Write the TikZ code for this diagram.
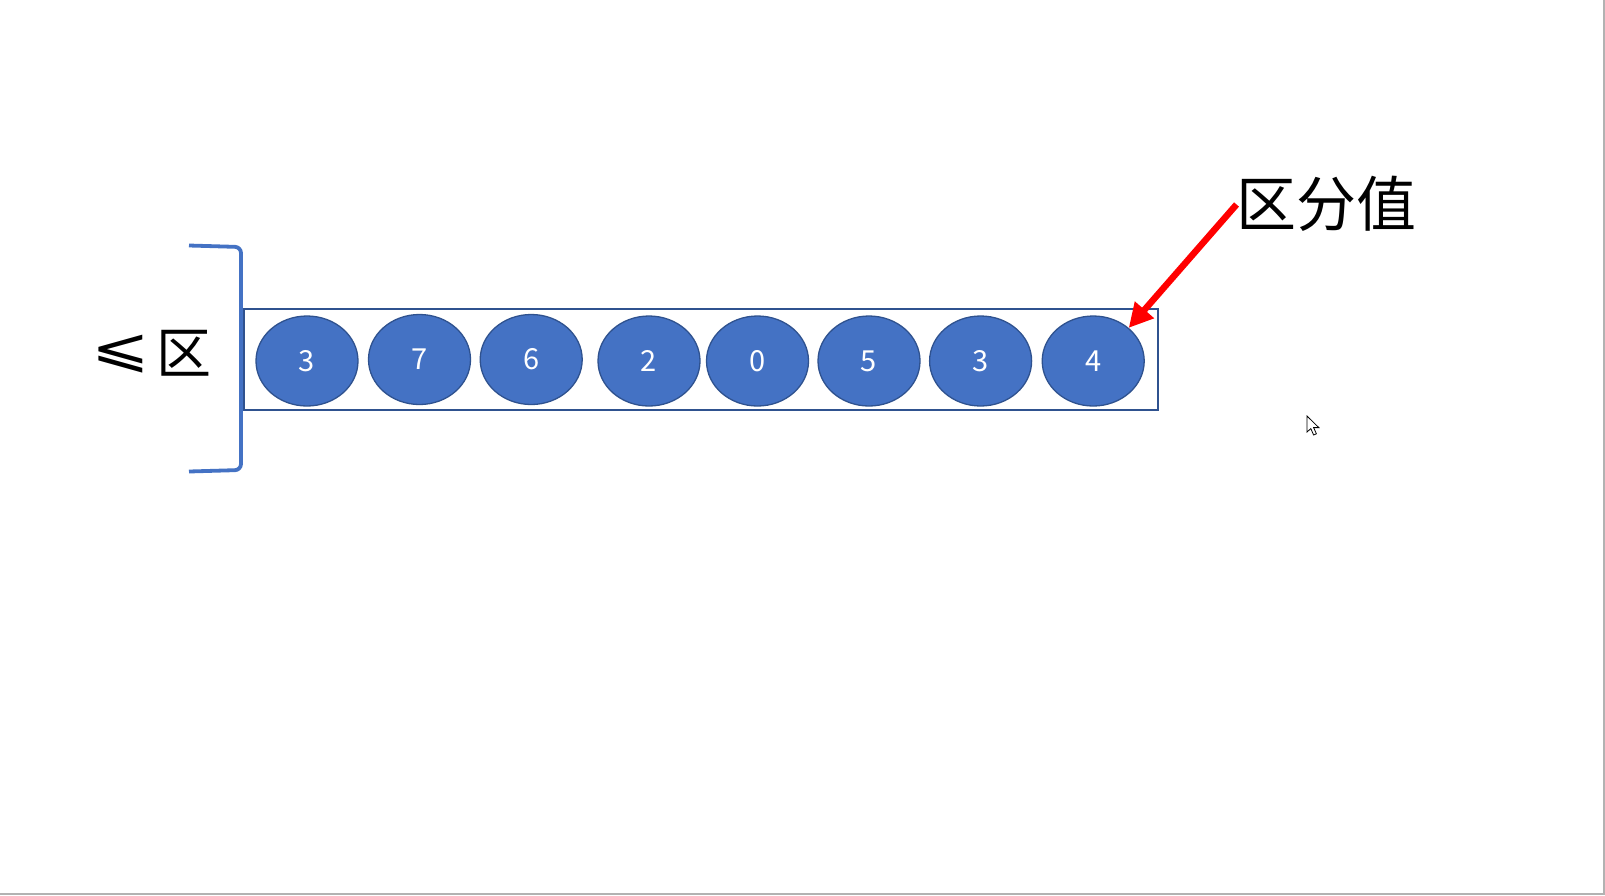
\documentclass[tikz,border=0pt]{standalone}
\usepackage{fontspec}
\usepackage{graphicx}
\newfontfamily\cjk{Noto Sans CJK SC}
\newfontfamily\dvs{DejaVu Sans}
\usetikzlibrary{shapes.geometric,arrows.meta}
\definecolor{ofill}{HTML}{4472C4}
\definecolor{oline}{HTML}{2F528F}
\definecolor{arrred}{HTML}{FF0000}
\tikzset{
  ball/.style={ellipse, fill=ofill, draw=oline, line width=1.3pt,
    minimum width=102pt, minimum height=90pt, inner sep=0pt,
    text=white, font=\cjk\fontsize{29}{29}\selectfont},
  rowbox/.style={draw=oline, line width=1.8pt, minimum width=914pt,
    minimum height=101pt, inner sep=0pt},
  bracketline/.style={draw=ofill, line width=3.8pt, rounded corners=6pt},
  pointer/.style={draw=arrred, line width=6.5pt,
    -{Triangle[width=24pt,length=24pt]}},
  bigtext/.style={inner sep=0pt, font=\cjk\fontsize{60}{60}\selectfont},
}
\begin{document}
\begin{tikzpicture}[x=1pt,y=-1pt]
\useasboundingbox (0,0) rectangle (1605,895);
\fill[white] (0,0) rectangle (1605,895);
% frame edges
\draw[gray!60, line width=2pt] (1604,0) -- (1604,894) -- (0,894);
% box
\node[rowbox] (box) at (700.7,359.8) {};
% balls
\node[ball] (e1) at (307,361) {3};
\node[ball] (e2) at (419.5,359.5) {7};
\node[ball] (e3) at (531.2,359.5) {6};
\node[ball] (e4) at (649,361) {2};
\node[ball] (e5) at (757.5,361) {0};
\node[ball] (e6) at (869,361) {5};
\node[ball] (e7) at (980.6,361) {3};
\node[ball] (e8) at (1093.2,361) {4};
% bracket
\draw[bracketline] (189,245.5) -- (241,247) -- (241,470) -- (189,471.5);
% left label
\node[inner sep=0pt, font=\dvs\fontsize{50}{50}\selectfont] (le) at (121,354.5) {\scalebox{1.4}[1.08]{⩽}};
\node[inner sep=0pt, font=\cjk\fontsize{55}{55}\selectfont] (lq) at (183.5,353.5) {区};
% top label and arrow
\node[bigtext, anchor=west] (lbl) at (1236,204) {区分值};
\coordinate (as) at (1236.5,204.5);
\draw[pointer] (as) -- (e8.43);
% mouse cursor
\draw[black, fill=white, line width=0.8pt, line join=miter]
  (1307,416) -- (1307,432) -- (1310.8,428.6) -- (1313.6,435) -- (1316.4,433.8)
  -- (1313.6,427.6) -- (1318.8,427.6) -- cycle;
\end{tikzpicture}
\end{document}
